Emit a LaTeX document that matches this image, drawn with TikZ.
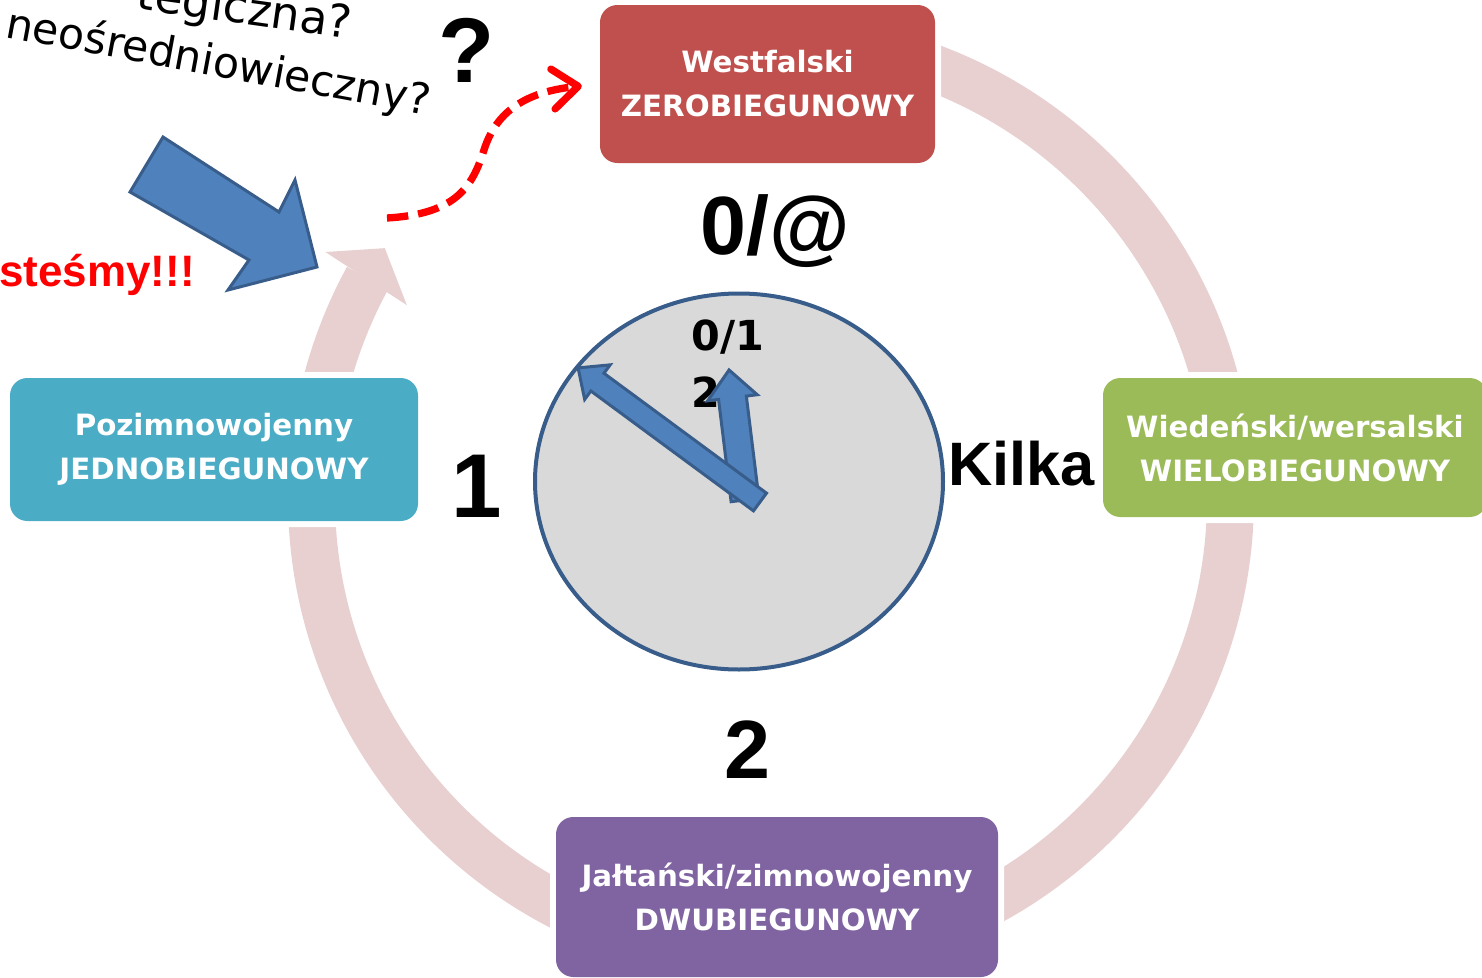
\documentclass[tikz,border=0pt]{standalone}
\usepackage{fontspec}
\usepackage{tikz}
\usetikzlibrary{arrows.meta, calc}
\newfontfamily\boxfont{DejaVu Sans}
\newfontfamily\numfont{Liberation Sans}
\definecolor{westred}{HTML}{C0504D}
\definecolor{manygreen}{HTML}{9BBB59}
\definecolor{twopurple}{HTML}{8064A2}
\definecolor{oneteal}{HTML}{4BACC6}
\definecolor{ringpink}{RGB}{232,208,209}
\definecolor{clockgray}{HTML}{D9D9D9}
\definecolor{handblue}{HTML}{4F81BD}
\definecolor{handedge}{HTML}{385D8A}

\tikzset{
  polebox/.style={rounded corners=13pt, text=white, align=center, inner sep=0pt,
    font=\boxfont\bfseries\fontsize{22}{33}\selectfont,
    preaction={draw=white, line width=9pt}},
  bignum/.style={anchor=base, inner sep=0pt, font=\numfont\bfseries\fontsize{62}{62}\selectfont},
  clocktext/.style={anchor=base west, inner sep=0pt, font=\boxfont\bfseries\fontsize{31}{31}\selectfont},
  hand/.style={fill=handblue, draw=handedge, line width=2.25pt},
  redpath/.style={draw=red, line width=5.5pt, dash pattern=on 16pt off 7.5pt,
    -{Straight Barb[length=19pt,width=30pt,round]}},
}

% #1 tail, #2 angle, #3 length, #4 shaft, #5 head width, #6 head length
\newcommand{\clockhand}[6]{%
  \draw[hand, shift={#1}, rotate=#2] (0,{-#4/2}) -- ({#3-#6},{-#4/2}) -- ({#3-#6},{-#5/2}) -- (#3,0)
    -- ({#3-#6},{#5/2}) -- ({#3-#6},{#4/2}) -- (0,{#4/2}) -- cycle;}

\begin{document}
\begin{tikzpicture}[x=0.75pt, y=-0.75pt]
    \useasboundingbox (0,0) rectangle (1482,978);
    \clip (0,0) rectangle (1482,978);

    \coordinate (ringc) at (771,498);%円環の中心
    \draw[ringpink, line width=35.25pt] ($(ringc)+(-90:459.5)$) arc[start angle=-90, end angle=208.6, radius=459.5];
    \fill[ringpink] ($(ringc)+(208.9:509)$) -- ($(ringc)+(212.9:460)$) -- ($(ringc)+(207.9:412)$) -- cycle;%矢じり

    \node[polebox, fill=westred, minimum width=251.25pt, minimum height=118.5pt] (zero) at (767.5,84) {Westfalski\\ZEROBIEGUNOWY};
    \node[polebox, fill=manygreen, minimum width=288pt, minimum height=104.25pt] (many) at (1295,447.5) {Wiedeński/wersalski\\WIELOBIEGUNOWY};
    \node[polebox, fill=twopurple, minimum width=331.5pt, minimum height=120pt] (two) at (777,897) {Jałtański/zimnowojenny\\DWUBIEGUNOWY};
    \node[polebox, fill=oneteal, minimum width=306pt, minimum height=107.25pt] (one) at (214,449.5) {Pozimnowojenny\\JEDNOBIEGUNOWY};

    \node[bignum] (zerolabel) at (775,254) {0/@};
    \node[bignum, font=\numfont\bfseries\fontsize{68}{68}\selectfont] (onelabel) at (477,517) {1};
    \node[bignum] (twolabel) at (747,778) {2};
    \node[bignum, anchor=base west, font=\numfont\bfseries\fontsize{46}{46}\selectfont] (manylabel) at (948,485) {Kilka};
    \node[bignum, font=\numfont\bfseries\fontsize{69}{69}\selectfont] (question) at (467,82) {?};

    \draw[fill=clockgray, draw=handedge, line width=3pt] (739,481.5) ellipse [x radius=204, y radius=188];%時計
    \node[clocktext] (clockhi) at (691,350) {0/1};
    \node[clocktext] (clocklo) at (691,407) {2};
    \coordinate (hubshort) at (745,500);
    \coordinate (hublong) at (760,502);
    \clockhand{(hubshort)}{97}{131}{28}{50}{28}
    \clockhand{(hublong)}{143.6}{226}{22}{43}{24}

    \draw[hand] (163,137) -- (279,212) -- (295,180) -- (317,267) -- (228,290) -- (249,260) -- (130,192) -- cycle;%青い矢印

    \coordinate (dashstart) at (387,218);
    \draw[redpath, shorten >=13.5pt] (dashstart) .. controls (455,214) and (472,188) .. (484,150)
        .. controls (496,112) and (525,92) .. (zero.west);

    \node[rotate=-8, anchor=base east, inner sep=0pt, font=\boxfont\fontsize{34}{34}\selectfont] (pauza) at (350,39) {tegiczna?};
    \node[rotate=-10.5, anchor=base west, inner sep=0pt, font=\boxfont\fontsize{32}{32}\selectfont] (neo) at (4,37) {neośredniowieczny?};
    \node[anchor=base west, inner sep=0pt, text=red, font=\numfont\bfseries\fontsize{33}{33}\selectfont] (jestesmy) at (-1,286) {steśmy!!!};
\end{tikzpicture}
\end{document}
